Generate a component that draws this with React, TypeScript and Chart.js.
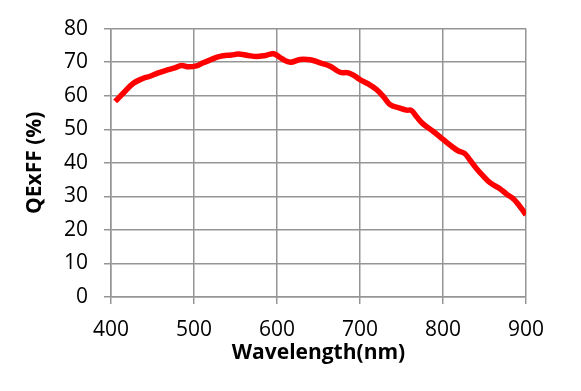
import React, { useEffect, useRef } from "react";
import { Chart, registerables } from "chart.js";

Chart.register(...registerables);

const wavelengths = [405, 415, 427, 439, 447, 457, 467, 477, 485, 493, 503, 511, 519, 527, 535, 545, 553, 565, 575, 586, 596, 606, 616, 628, 640, 652, 664, 676, 686, 694, 700, 710, 720, 728, 736, 748, 756, 762, 768, 776, 788, 800, 810, 818, 826, 832, 840, 848, 857, 869, 877, 885, 892, 900];
const qeff = [58.3, 60.8, 63.7, 65.2, 65.8, 66.8, 67.6, 68.3, 69.0, 68.6, 68.9, 69.8, 70.6, 71.4, 71.9, 72.1, 72.4, 72.0, 71.7, 72.0, 72.5, 71.0, 70.0, 70.8, 70.7, 69.8, 68.8, 67.0, 66.8, 65.8, 64.8, 63.5, 61.8, 59.8, 57.4, 56.3, 55.7, 55.6, 53.8, 51.6, 49.4, 47.0, 45.0, 43.6, 42.8, 41.0, 38.4, 36.2, 34.0, 32.2, 30.6, 29.2, 27.2, 24.5];

const xTitle = "Wavelength(nm)";
const yTitle = "QExFF (%)";

const FONT = "'Open Sans', sans-serif";
const GRID = "#959595";

export default function App() {
  const ref = useRef<HTMLCanvasElement | null>(null);
  useEffect(() => {
    if (!ref.current) return;
    const chart = new Chart(ref.current, {
      type: "line",
      data: {
        datasets: [
          {
            data: wavelengths.map((x, i) => ({ x, y: qeff[i] })),
            borderColor: "#ff0000",
            borderWidth: 5.5,
            pointRadius: 0,
            tension: 0.4,
            fill: false,
          },
        ],
      },
      options: {
        animation: false,
        responsive: false,
        maintainAspectRatio: false,
        layout: { padding: { top: 22, right: 55, left: 0, bottom: 0 } },
        plugins: { legend: { display: false }, tooltip: { enabled: false } },
        scales: {
          x: {
            type: "linear",
            min: 400,
            max: 900,
            afterFit: (s: any) => { s.height = 94; },
            ticks: { stepSize: 100, color: "#000", padding: 13, font: { family: FONT, size: 21 } },
            grid: { color: GRID, lineWidth: 1.5, tickLength: 7 },
            border: { color: GRID, width: 1.5 },
            title: { display: true, text: xTitle, color: "#000", padding: { bottom: 25, top: 0 }, font: { family: FONT, size: 21, weight: "bold" } },
          },
          y: {
            min: 0,
            max: 80,
            afterFit: (s: any) => { s.width = 111; },
            ticks: { stepSize: 10, color: "#000", padding: 16, font: { family: FONT, size: 21 } },
            grid: { color: GRID, lineWidth: 1.5, tickLength: 7 },
            border: { color: GRID, width: 1.5 },
            title: { display: true, text: yTitle, color: "#000", padding: { top: 22, bottom: 0 }, font: { family: FONT, size: 21, weight: "bold" } },
          },
        },
      },
    });
    return () => chart.destroy();
  }, []);
  return (
    <div style={{ position: "absolute", left: 0, top: 0, width: 581, height: 391, background: "#fff" }}>
      <canvas ref={ref} width={581} height={391} style={{ width: 581, height: 391 }} />
    </div>
  );
}
